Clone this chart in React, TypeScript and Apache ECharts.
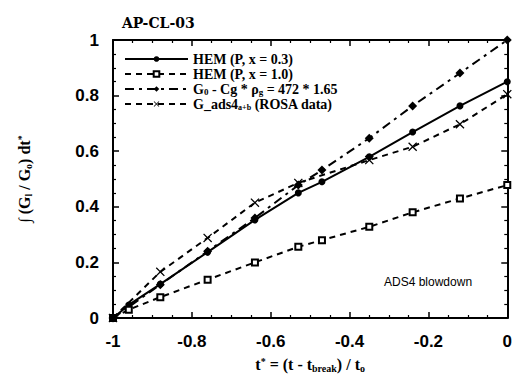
import React, { useEffect, useRef } from "react";
import * as echarts from "echarts";

const titleText = "AP-CL-03";
const annotationText = "ADS4 blowdown";

const seriesNames = [
  "HEM (P, x = 0.3)",
  "HEM (P, x = 1.0)",
  "G0 - Cg * pg = 472 * 1.65",
  "G_ads4 a+b (ROSA data)",
];

const hem03X = [-1, -0.96, -0.88, -0.76, -0.64, -0.53, -0.47, -0.35, -0.24, -0.12, 0];
const hem03Y = [0, 0.047, 0.122, 0.237, 0.353, 0.45, 0.49, 0.58, 0.669, 0.763, 0.85];

const hem10X = [-1, -0.96, -0.88, -0.76, -0.64, -0.53, -0.47, -0.35, -0.24, -0.12, 0];
const hem10Y = [0, 0.03, 0.075, 0.138, 0.2, 0.256, 0.28, 0.328, 0.38, 0.43, 0.478];

const g0X = [-1, -0.88, -0.76, -0.64, -0.53, -0.47, -0.35, -0.24, -0.12, 0];
const g0Y = [0, 0.12, 0.24, 0.36, 0.478, 0.532, 0.647, 0.763, 0.881, 1.0];

const rosaX = [-1, -0.88, -0.76, -0.64, -0.53, -0.35, -0.24, -0.12, 0];
const rosaY = [0, 0.166, 0.288, 0.415, 0.486, 0.568, 0.616, 0.697, 0.805];

const xMin = -1;
const xMax = 0;
const xInterval = 0.2;
const yMin = 0;
const yMax = 1;
const yInterval = 0.2;

const zip = (xs: number[], ys: number[]) => xs.map((x, i) => [x, ys[i]]);

const crossPath =
  "path://M0,1 L1,0 L5,4 L9,0 L10,1 L6,5 L10,9 L9,10 L5,6 L1,10 L0,9 L4,5 Z";

const serif = "'Liberation Serif', 'Times New Roman', serif";
const sans = "'Liberation Sans', Arial, sans-serif";

export default function App() {
  const ref = useRef<HTMLDivElement>(null);
  useEffect(() => {
    if (!ref.current) return;
    const chart = echarts.init(ref.current, undefined, { renderer: "svg" });

    const axisCommon = {
      axisLine: { show: true, onZero: false, lineStyle: { color: "#000", width: 2 } },
      axisTick: { show: true, inside: true, length: 6, lineStyle: { color: "#000", width: 1.5 } },
      minorTick: { show: true, splitNumber: 4, length: 3, lineStyle: { color: "#000", width: 1.2 } },
      splitLine: { show: false },
      minorSplitLine: { show: false },
    };
    const labelStyle = {
      color: "#000",
      fontFamily: sans,
      fontWeight: "bold" as const,
      fontSize: 17,
    };
    const richBase = {
      n: { fontFamily: serif, fontWeight: "bold", fontSize: 16, color: "#000", lineHeight: 17 },
      sub: { fontFamily: serif, fontWeight: "bold", fontSize: 10, color: "#000", lineHeight: 4, verticalAlign: "bottom" },
      sup: { fontFamily: serif, fontWeight: "bold", fontSize: 10, color: "#000", lineHeight: 6, verticalAlign: "top" },
    };
    const legendRich = {
      n: { fontFamily: serif, fontWeight: "bold", fontSize: 14, color: "#000", lineHeight: 14 },
      sub: { fontFamily: serif, fontWeight: "bold", fontSize: 9, color: "#000", lineHeight: 4, verticalAlign: "bottom" },
      sub2: { fontFamily: serif, fontWeight: "bold", fontSize: 8, color: "#000", lineHeight: 0, verticalAlign: "bottom" },
    };

    const legendFormatter = (name: string) => {
      if (name === seriesNames[2]) {
        return "{n|G}{sub|0}{n| - Cg * ρ}{sub|g}{n| = 472 * 1.65}";
      }
      if (name === seriesNames[3]) {
        return "{n|G_ads4}{sub2|a+b}{n| (ROSA data)}";
      }
      return "{n|" + name + "}";
    };

    chart.setOption({
      animation: false,
      backgroundColor: "#fff",
      title: {
        text: titleText,
        left: 117,
        top: 11,
        textStyle: { fontFamily: "'DejaVu Serif', serif", fontWeight: "bold", fontSize: 14, color: "#000" },
      },
      grid: { left: 113, right: 3, top: 40, bottom: 64 },
      legend: {
        data: seriesNames,
        orient: "vertical",
        left: 119,
        top: 47,
        itemWidth: 63,
        itemHeight: 7,
        itemGap: 1,
        formatter: legendFormatter,
        textStyle: { rich: legendRich, color: "#000" },
        selectedMode: false,
      },
      xAxis: [
        {
          type: "value",
          min: xMin,
          max: xMax,
          interval: xInterval,
          position: "bottom",
          ...axisCommon,
          axisLabel: { ...labelStyle, margin: 15 },
          name: "{n|t}{sup|*}{n| = (t - t}{sub|break}{n|) / t}{sub|o}",
          nameLocation: "middle",
          nameGap: 38,
          nameTextStyle: { rich: richBase },
        },
        {
          type: "value",
          min: xMin,
          max: xMax,
          interval: xInterval,
          position: "top",
          ...axisCommon,
          axisLabel: { show: false },
        },
      ],
      yAxis: [
        {
          type: "value",
          min: yMin,
          max: yMax,
          interval: yInterval,
          position: "left",
          ...axisCommon,
          axisLabel: { ...labelStyle, margin: 14 },
          name: "{n|∫ (G}{sub|l}{n| / G}{sub|o}{n|) dt}{sup|*}",
          nameLocation: "middle",
          nameGap: 80,
          nameRotate: 90,
          nameTextStyle: { rich: richBase },
        },
        {
          type: "value",
          min: yMin,
          max: yMax,
          interval: yInterval,
          position: "right",
          ...axisCommon,
          axisLabel: { show: false },
        },
      ],
      graphic: [
        {
          type: "text",
          left: 384,
          top: 276,
          style: {
            text: annotationText,
            fontFamily: sans,
            fontSize: 12,
            fill: "#000",
          },
        },
      ],
      series: [
        {
          name: seriesNames[0],
          type: "line",
          data: zip(hem03X, hem03Y),
          symbol: "circle",
          symbolSize: 7,
          lineStyle: { color: "#000", width: 2 },
          itemStyle: { color: "#000" },
        },
        {
          name: seriesNames[1],
          type: "line",
          data: zip(hem10X, hem10Y),
          symbol: "emptyRect",
          symbolSize: 6,
          lineStyle: { color: "#000", width: 2, type: [6, 5] },
          itemStyle: { color: "#000", borderColor: "#000", borderWidth: 2 },
        },
        {
          name: seriesNames[2],
          type: "line",
          data: zip(g0X, g0Y),
          symbol: "diamond",
          symbolSize: 9,
          lineStyle: { color: "#000", width: 2, type: [9, 5, 3, 5] },
          itemStyle: { color: "#000" },
        },
        {
          name: seriesNames[3],
          type: "line",
          data: zip(rosaX, rosaY),
          symbol: crossPath,
          symbolSize: 9,
          lineStyle: { color: "#000", width: 2, type: [6, 5] },
          itemStyle: { color: "#000" },
        },
      ],
    });
    return () => chart.dispose();
  }, []);
  return <div ref={ref} style={{ width: 515, height: 382, position: "absolute", left: 0, top: 0 }} />;
}
